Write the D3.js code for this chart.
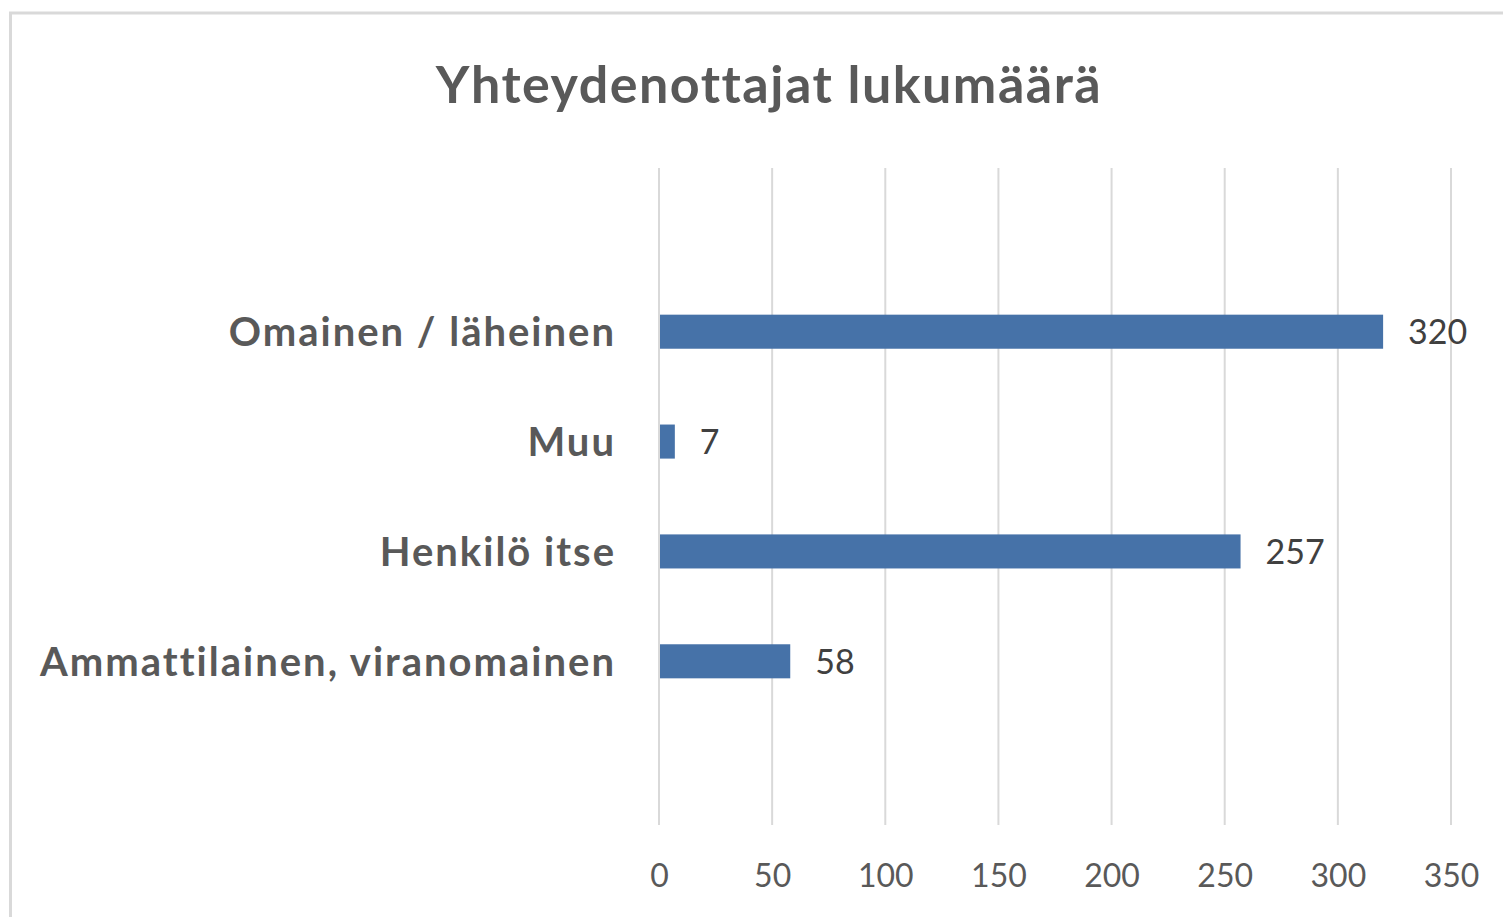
<!DOCTYPE html>
<html>
<head>
<meta charset="utf-8">
<script src="https://cdn.jsdelivr.net/npm/d3@7"></script>
<style>
  body { margin: 0; background: #fff; }
  text { font-family: Lato, "Open Sans", sans-serif; }
</style>
</head>
<body>
<div id="chart"></div>
<script>
// Data
var title = "Yhteydenottajat lukumäärä";
var categories = ["Omainen / läheinen", "Muu", "Henkilö itse", "Ammattilainen, viranomainen"];
var values = [320, 7, 257, 58];
var tickValues = [0, 50, 100, 150, 200, 250, 300, 350];

var width = 1503;
var height = 917;

var svg = d3.select("#chart").append("svg")
    .attr("width", width)
    .attr("height", height);

// chart frame (right and bottom edges fall outside the picture)
svg.append("rect")
    .attr("x", 10.5)
    .attr("y", 13)
    .attr("width", 1520)
    .attr("height", 940)
    .attr("fill", "#fff")
    .attr("stroke", "#d9d9d9")
    .attr("stroke-width", 3);

var plotTop = 168, plotBottom = 825;

var x = d3.scaleLinear()
    .domain([0, 350])
    .range([659, 1451]);

var y = d3.scaleBand()
    .domain(categories)
    .range([plotTop, plotBottom])
    .paddingInner(0.69)
    .paddingOuter(1.335);

// gridlines
svg.append("g").selectAll("line")
    .data(tickValues)
  .enter().append("line")
    .attr("x1", function(d) { return x(d); })
    .attr("x2", function(d) { return x(d); })
    .attr("y1", plotTop)
    .attr("y2", plotBottom)
    .attr("stroke", "#d9d9d9")
    .attr("stroke-width", 2);

// x axis labels
var xAxis = d3.axisBottom(x)
    .tickValues(tickValues)
    .tickSize(0)
    .tickPadding(0);

var gx = svg.append("g")
    .attr("transform", "translate(0," + 876 + ")")
    .call(xAxis);
gx.select(".domain").remove();
gx.selectAll("text")
    .attr("dy", "0.35em")
    .attr("fill", "#595959")
    .style("font-size", "32px")
    .style("font-family", "Lato, sans-serif");

// category labels
svg.append("g").selectAll("text")
    .data(categories)
  .enter().append("text")
    .attr("x", 616)
    .attr("y", function(d) { return y(d) + y.bandwidth() / 2; })
    .attr("dy", "0.36em")
    .attr("text-anchor", "end")
    .attr("fill", "#595959")
    .style("font-size", "40px")
    .style("font-weight", "bold")
    .style("letter-spacing", "2px")
    .text(function(d) { return d; });

// bars
svg.append("g").selectAll("rect")
    .data(values)
  .enter().append("rect")
    .attr("x", x(0) + 1)
    .attr("y", function(d, i) { return y(categories[i]); })
    .attr("width", function(d) { return x(d) - x(0) - 1; })
    .attr("height", y.bandwidth())
    .attr("fill", "#4672a8");

// value labels
svg.append("g").selectAll("text")
    .data(values)
  .enter().append("text")
    .attr("x", function(d) { return x(d) + 25; })
    .attr("y", function(d, i) { return y(categories[i]) + y.bandwidth() / 2; })
    .attr("dy", "0.36em")
    .attr("fill", "#404040")
    .style("font-size", "34px")
    .text(function(d) { return d; });

// title
svg.append("text")
    .attr("x", 769)
    .attr("y", 103)
    .attr("text-anchor", "middle")
    .attr("fill", "#595959")
    .style("font-size", "52px")
    .style("font-weight", "bold")
    .style("letter-spacing", "1.5px")
    .text(title);
</script>
</body>
</html>
